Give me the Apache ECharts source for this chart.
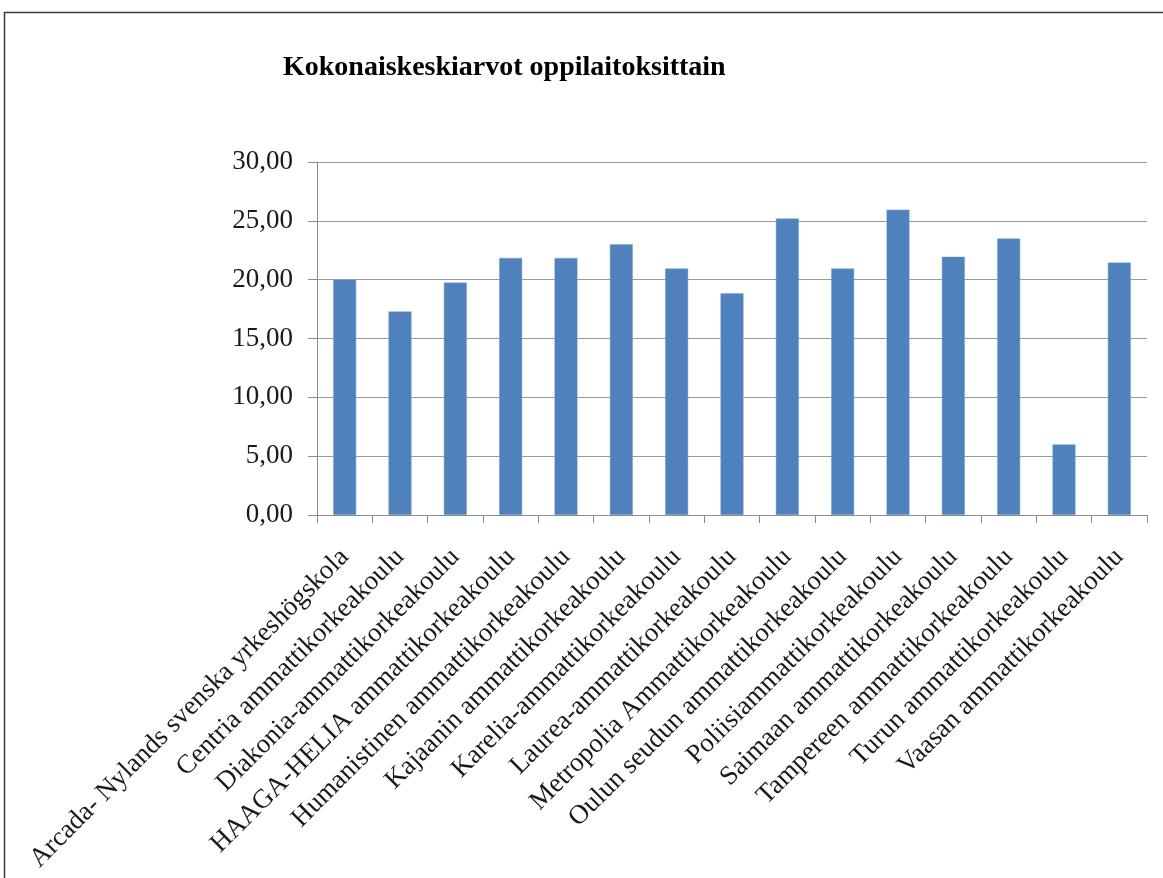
<!DOCTYPE html>
<html>
<head>
<meta charset="utf-8">
<script src="https://cdn.jsdelivr.net/npm/echarts@6/dist/echarts.min.js"></script>
<style>
html,body{margin:0;padding:0;background:#fff;}
#chart{width:1163px;height:878px;}
</style>
</head>
<body>
<div id="chart"></div>
<script>
const titleText = 'Kokonaiskeskiarvot oppilaitoksittain';
const categories = [
  'Arcada- Nylands svenska yrkeshögskola',
  'Centria ammattikorkeakoulu',
  'Diakonia-ammattikorkeakoulu',
  'HAAGA-HELIA ammattikorkeakoulu',
  'Humanistinen ammattikorkeakoulu',
  'Kajaanin ammattikorkeakoulu',
  'Karelia-ammattikorkeakoulu',
  'Laurea-ammattikorkeakoulu',
  'Metropolia Ammattikorkeakoulu',
  'Oulun seudun ammattikorkeakoulu',
  'Poliisiammattikorkeakoulu',
  'Saimaan ammattikorkeakoulu',
  'Tampereen ammattikorkeakoulu',
  'Turun ammattikorkeakoulu',
  'Vaasan ammattikorkeakoulu'
];
const values = [20.0, 17.3, 19.75, 21.85, 21.85, 23.0, 20.95, 18.85, 25.2, 20.95, 25.95, 21.95, 23.5, 6.0, 21.45];
const yMin = 0, yMax = 30, yStep = 5;

const chart = echarts.init(document.getElementById('chart'));
const serif = '"Liberation Serif", "DejaVu Serif", serif';
chart.setOption({
  animation: false,
  backgroundColor: '#fff',
  graphic: [{
    type: 'rect',
    shape: {x: 4.5, y: 12.5, width: 1200, height: 900},
    style: {fill: 'none', stroke: '#3a3a3a', lineWidth: 1.5},
    silent: true
  }],
  title: {
    text: titleText,
    left: 278, top: 49,
    textStyle: {fontFamily: serif, fontWeight: 'bold', fontSize: 28, color: '#000'}
  },
  grid: {left: 317, right: 16, top: 162, bottom: 363, containLabel: false},
  xAxis: {
    type: 'category',
    data: categories,
    axisLine: {show: true, lineStyle: {color: '#8c8c8c', width: 1}},
    axisTick: {show: true, length: 8, alignWithLabel: false, lineStyle: {color: '#8c8c8c'}},
    axisLabel: {
      interval: 0, rotate: 45, margin: 38,
      fontFamily: serif, fontSize: 27, color: '#1a1a1a'
    }
  },
  yAxis: {
    type: 'value',
    min: yMin, max: yMax, interval: yStep,
    axisLine: {show: true, lineStyle: {color: '#8c8c8c', width: 1}},
    axisTick: {show: true, length: 9, lineStyle: {color: '#8c8c8c'}},
    splitLine: {show: true, lineStyle: {color: '#9a9a9a', width: 1}},
    axisLabel: {
      margin: 24,
      fontFamily: serif, fontSize: 27, color: '#1a1a1a',
      formatter: v => v.toFixed(2).replace('.', ',')
    }
  },
  series: [{
    type: 'bar',
    data: values,
    barWidth: 23,
    itemStyle: {color: '#4F81BD', borderColor: '#7fa2cf', borderWidth: 0.5}
  }]
});
</script>
</body>
</html>
